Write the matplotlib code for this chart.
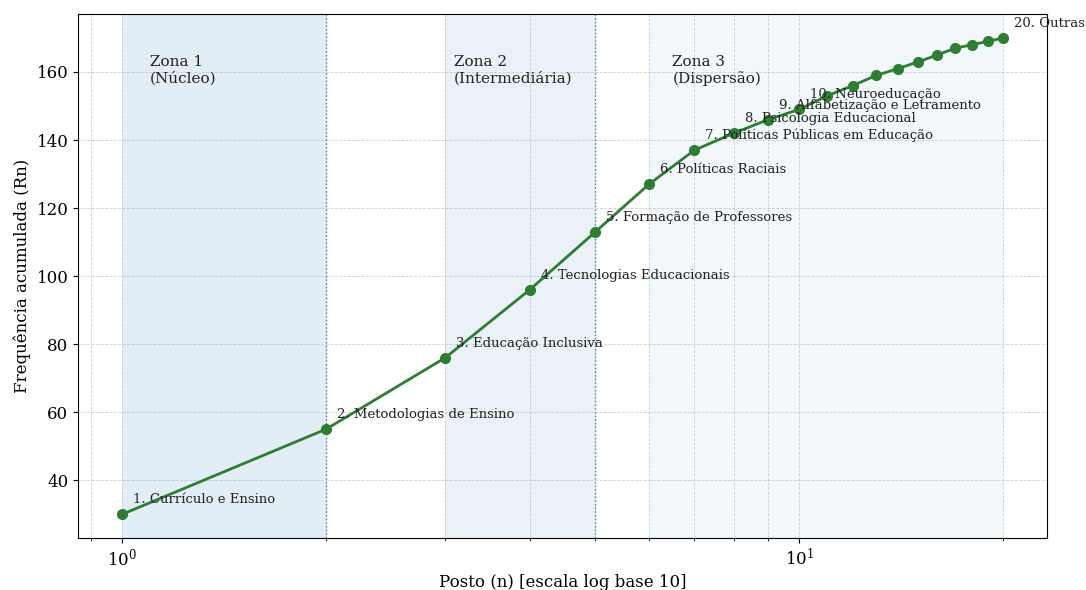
import numpy as np
import matplotlib
matplotlib.use('Agg')
import matplotlib.pyplot as plt

plt.rcParams['font.family'] = ['DejaVu Serif']

# posto e frequência acumulada (Rn)
postos = list(range(1, 21))
acumulada = [30, 55, 76, 96, 113, 127, 137, 142, 146, 149,
             153, 156, 159, 161, 163, 165, 167, 168, 169, 170]

# rótulos dos pontos anotados
rotulo_postos = [1, 2, 3, 4, 5, 6, 7, 8, 9, 10, 20]
rotulo_nomes = ['Currículo e Ensino', 'Metodologias de Ensino', 'Educação Inclusiva',
                'Tecnologias Educacionais', 'Formação de Professores', 'Políticas Raciais',
                'Políticas Públicas em Educação', 'Psicologia Educacional',
                'Alfabetização e Letramento', 'Neuroeducação', 'Outras']

# zonas de Bradford
zona_inicio = [1, 3, 6]
zona_fim = [2, 5, 20]
zona_nomes = ['Zona 1\n(Núcleo)', 'Zona 2\n(Intermediária)', 'Zona 3\n(Dispersão)']
zona_texto_x = [1.1, 3.09, 6.5]
zona_alpha = [0.13, 0.09, 0.06]

fig, ax = plt.subplots(figsize=(10.86, 5.9), dpi=100)
fig.subplots_adjust(left=0.072, right=0.964, top=0.976, bottom=0.088)

for i in range(3):
    ax.axvspan(zona_inicio[i], zona_fim[i], color='tab:blue', alpha=zona_alpha[i], lw=0)
    ax.text(zona_texto_x[i], 165, zona_nomes[i], fontsize=11, va='top', ha='left',
            color='#222222')
for x in [zona_fim[0], zona_fim[1]]:
    ax.axvline(x, color='tab:blue', linestyle=':', lw=1.0, alpha=0.9)

ax.plot(postos, acumulada, marker='o', color='#2e7d32', lw=2, markersize=7)

for p, nome in zip(rotulo_postos, rotulo_nomes):
    ax.annotate(f'{p}. {nome}', (p, acumulada[p - 1]), textcoords='offset points',
                xytext=(8, 8), fontsize=9.5, color='#222222', annotation_clip=False)

ax.set_xscale('log')
ax.set_xlabel('Posto (n) [escala log base 10]', fontsize=12, labelpad=3)
ax.set_ylabel('Frequência acumulada (Rn)', fontsize=12)
ax.tick_params(labelsize=12)
ax.grid(True, which='both', linestyle='--', linewidth=0.6, color='#bbbbbb', alpha=0.7)

fig.savefig('out.png')
